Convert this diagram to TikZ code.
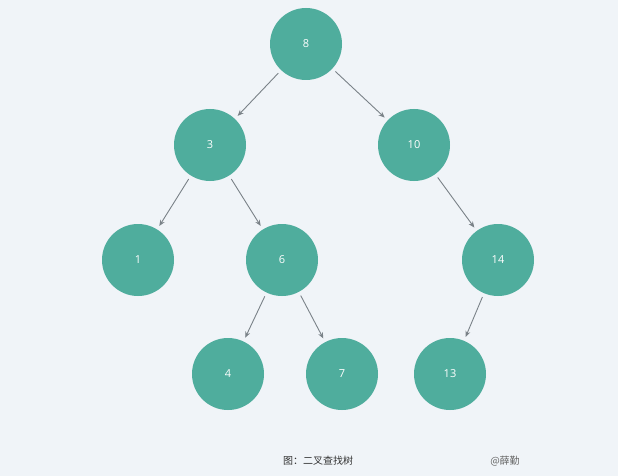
\documentclass[tikz,border=0pt]{standalone}
\usepackage{fontspec}
\setmainfont{Open Sans}
\newfontfamily\cjk{Noto Sans CJK SC}
\usetikzlibrary{arrows.meta}
\definecolor{bgcol}{HTML}{F0F4F8}
\definecolor{nodecol}{HTML}{4FAD9D}
\definecolor{edgecol}{HTML}{7A8288}
\begin{document}
\begin{tikzpicture}[x=1pt, y=-1pt,
    keynode/.style={circle, fill=nodecol, text=white, minimum size=72pt,
        inner sep=0pt, font=\fontsize{11}{13}\selectfont},
    link/.style={draw=edgecol, line width=0.9pt, -{Stealth[length=6pt,width=5pt]},
        shorten <=4pt, shorten >=4pt}
]
    \fill[bgcol] (0,0) rectangle (618,476);
    \useasboundingbox (0,0) rectangle (618,476);
    % nodes
    \node[keynode] (n8) at (306,44) {8};
    \node[keynode] (n3) at (210,145) {3};
    \node[keynode] (n10) at (414,145) {10};
    \node[keynode] (n1) at (138,260) {1};
    \node[keynode] (n6) at (282,260) {6};
    \node[keynode] (n14) at (498,260) {14};
    \node[keynode] (n4) at (228,374) {4};
    \node[keynode] (n7) at (342,374) {7};
    \node[keynode] (n13) at (450,374) {13};
    % links
    \draw[link] (n8) -- (n3);
    \draw[link] (n8) -- (n10);
    \draw[link] (n3) -- (n1);
    \draw[link] (n3) -- (n6);
    \draw[link] (n10) -- (n14);
    \draw[link] (n6) -- (n4);
    \draw[link] (n6) -- (n7);
    \draw[link] (n14) -- (n13);
    % caption
    \node[font=\cjk\fontsize{10}{12}\selectfont, text=black!80] (cap) at (318,461) {图：二叉查找树};
    \node[font=\cjk\fontsize{10}{12}\selectfont, text=black!60] (sig) at (505,461) {@薛勤};
\end{tikzpicture}
\end{document}
